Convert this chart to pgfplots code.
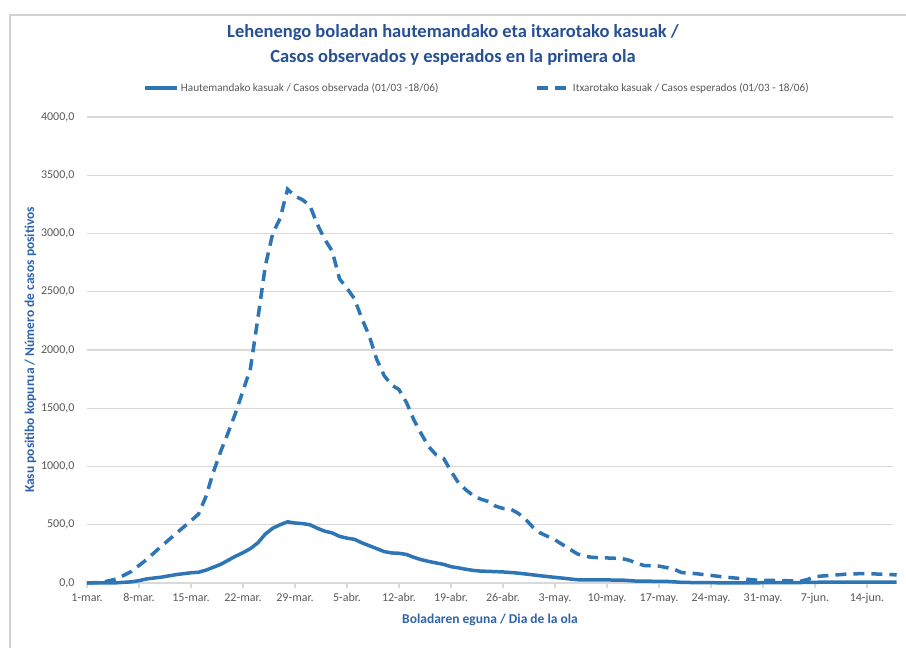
\documentclass[border=0pt]{standalone}
\usepackage{pgfplots}
\pgfplotsset{compat=1.18}
\usepackage{fontspec}
\setmainfont{Carlito}
\definecolor{lineblue}{RGB}{46,117,182}
\definecolor{titleblue}{RGB}{38,80,148}
\definecolor{labelblue}{RGB}{46,100,170}
\definecolor{gridgray}{RGB}{217,217,217}
\definecolor{textgray}{RGB}{89,89,89}
\definecolor{framegray}{RGB}{210,210,210}

\pgfplotstableread{
day val
0 0
2 2
4 2
6 10
7 20
8 35
10 50
12 72
14 88
15 92
16 110
17 135
18 160
19 195
20 230
21 260
22 295
23 345
24 420
25 470
26 500
27 525
28 515
29 510
30 500
31 470
32 445
33 430
34 400
35 385
36 375
37 345
38 320
39 295
40 270
41 258
42 255
43 245
44 220
45 200
46 185
47 172
48 160
49 140
50 130
51 118
52 108
53 102
54 100
56 95
58 85
60 70
62 55
64 42
66 28
68 26
70 26
72 25
74 16
76 15
78 14
80 6
82 3
85 2
90 2
95 3
100 8
105 8
109 8
}\observed

\pgfplotstableread{
day val
0 0
2 5
4 35
6 100
8 200
10 315
12 425
14 535
15 590
16 740
17 950
18 1130
19 1290
20 1460
21 1650
22 1840
23 2270
24 2720
25 3000
26 3130
27 3380
28 3320
29 3290
30 3240
31 3080
32 2950
33 2850
34 2610
35 2530
36 2440
37 2270
38 2120
39 1920
40 1780
41 1700
42 1660
43 1550
44 1400
45 1280
46 1170
47 1100
48 1070
49 960
50 860
51 800
52 750
53 720
54 700
55 660
56 640
57 635
58 600
59 550
60 480
61 430
62 400
63 370
64 330
65 290
66 250
67 230
68 220
70 215
72 210
73 195
74 170
75 150
77 145
79 120
80 90
82 80
84 65
86 50
88 38
90 25
92 22
94 20
96 15
97 30
98 55
100 65
102 75
104 80
106 78
108 72
109 70
}\expected

\begin{document}
\begin{tikzpicture}[x=1pt,y=1pt]
\useasboundingbox (0,0) rectangle (906,648);
\fill[white] (0,0) rectangle (906,648);
\draw[framegray, line width=1.2pt] (10,0) -- (10,633) -- (906,633);
\begin{axis}[
  at={(87pt,65pt)}, anchor=south west,
  scale only axis, width=806pt, height=466pt,
  xmin=0, xmax=108.5, ymin=0, ymax=4000,
  axis x line*=bottom, axis y line*=left,
  x axis line style={gridgray, line width=1.3pt},
  y axis line style={draw=none},
  xtick={0,7,...,105},
  xticklabels={1-mar.,8-mar.,15-mar.,22-mar.,29-mar.,5-abr.,12-abr.,19-abr.,26-abr.,3-may.,10-may.,17-may.,24-may.,31-may.,7-jun.,14-jun.},
  x tick label style={font=\fontsize{12}{14}\selectfont, text=textgray, yshift=-2pt},
  xtick style={gridgray, line width=1.2pt},
  tick align=outside, major tick length=5pt,
  ytick={0,500,...,4000},
  yticklabels={{0,0},{500,0},{1000,0},{1500,0},{2000,0},{2500,0},{3000,0},{3500,0},{4000,0}},
  y tick label style={font=\fontsize{12}{14}\selectfont, text=textgray, xshift=-4pt},
  ymajorgrids, grid style={gridgray, line width=1.3pt},
  ytick style={draw=none},
  xlabel={Boladaren eguna / Dia de la ola},
  xlabel style={font=\bfseries\fontsize{13.5}{16}\selectfont, text=labelblue, yshift=-3pt},
  ylabel={Kasu positibo kopurua / Número de casos positivos},
  ylabel style={font=\bfseries\fontsize{13.5}{16}\selectfont, text=labelblue, yshift=-2pt},
  legend columns=2,
  legend style={at={(0.484,1.062)}, anchor=center, draw=none, fill=none,
     font=\fontsize{11.2}{13}\selectfont, text=textgray,
     /tikz/every even column/.append style={column sep=95pt}},
  legend image code/.code={\draw[#1] (0pt,0pt) -- (32pt,0pt);},
  clip=false,
]
\addplot[lineblue, line width=3.5pt, line join=round] table[x=day,y=val]{\observed};
\addlegendentry{Hautemandako kasuak / Casos observada (01/03 -18/06)}
\addplot[lineblue, line width=3.5pt, dash pattern=on 11pt off 7pt] table[x=day,y=val]{\expected};
\addlegendentry{Itxarotako kasuak / Casos esperados (01/03 - 18/06)}
\end{axis}
\node[font=\bfseries\fontsize{18.5}{25}\selectfont, text=titleblue, align=center] at (453,603.5)
  {Lehenengo boladan hautemandako eta itxarotako kasuak /\\Casos observados y esperados en la primera ola};
\end{tikzpicture}
\end{document}
